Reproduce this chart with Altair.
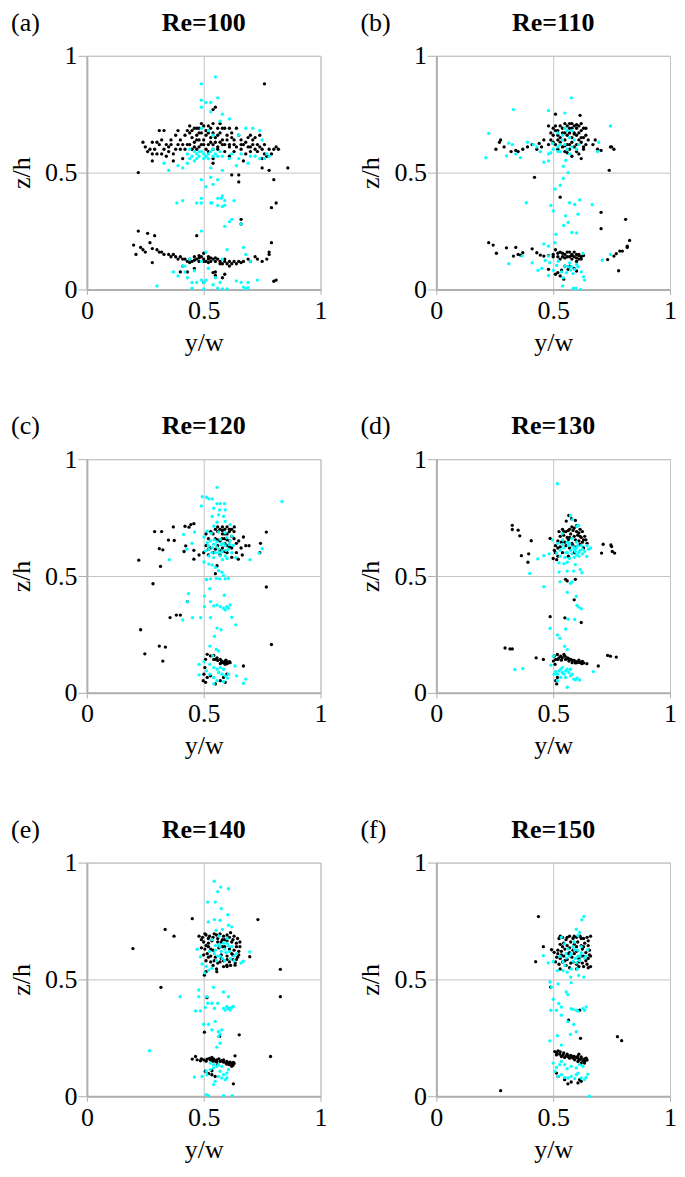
import altair as alt
import pandas as pd

FONT = "Liberation Serif, Times New Roman, serif"

# ---------------- Re=100 (a) ----------------
A_K = [(0.24,0.63),(0.28,0.63),(0.31,0.68),(0.33,0.68),(0.26,0.59),(0.28,0.58),(0.30,0.58),(0.28,0.55),(0.33,0.60),(0.34,0.57),
(0.36,0.64),(0.37,0.58),(0.39,0.68),(0.39,0.62),(0.40,0.60),(0.42,0.66),(0.43,0.62),(0.35,0.61),(0.31,0.62),(0.32,0.64),(0.29,0.60),(0.34,0.62),
(0.44,0.70),(0.46,0.69),(0.47,0.69),(0.49,0.71),(0.50,0.70),(0.52,0.70),(0.54,0.71),(0.56,0.69),(0.57,0.71),(0.59,0.69),(0.61,0.69),
(0.44,0.67),(0.45,0.65),(0.47,0.66),(0.48,0.67),(0.49,0.67),(0.51,0.66),(0.52,0.67),(0.54,0.67),(0.55,0.65),(0.56,0.66),(0.58,0.64),(0.60,0.66),(0.62,0.65),
(0.44,0.62),(0.46,0.63),(0.47,0.64),(0.49,0.62),(0.50,0.64),(0.52,0.62),(0.53,0.63),(0.54,0.62),(0.56,0.61),(0.57,0.63),(0.59,0.62),(0.61,0.62),
(0.45,0.60),(0.47,0.60),(0.48,0.61),(0.51,0.60),(0.52,0.59),(0.54,0.60),(0.56,0.60),(0.59,0.59),(0.61,0.61),(0.63,0.62),
(0.64,0.69),(0.66,0.64),(0.67,0.62),(0.68,0.63),(0.70,0.61),(0.71,0.64),(0.73,0.62),(0.74,0.66),(0.70,0.66),(0.73,0.59),(0.75,0.60),(0.76,0.58),(0.77,0.57),(0.80,0.60),(0.81,0.61),
(0.63,0.59),(0.66,0.60),(0.68,0.58),(0.70,0.59),(0.72,0.60),(0.75,0.56),(0.75,0.52),(0.54,0.56),(0.54,0.54),(0.67,0.55),(0.61,0.57),
(0.25,0.61),(0.27,0.60),(0.30,0.63),(0.32,0.58),(0.35,0.59),(0.36,0.62),(0.38,0.60),(0.38,0.66),(0.40,0.64),(0.41,0.62),(0.42,0.60),(0.43,0.68),(0.45,0.68),(0.46,0.61),
(0.48,0.69),(0.48,0.64),(0.50,0.62),(0.51,0.68),(0.53,0.65),(0.53,0.69),(0.55,0.63),(0.57,0.67),(0.58,0.62),(0.58,0.69),(0.60,0.64),(0.62,0.67),(0.63,0.64),(0.64,0.61),
(0.65,0.66),(0.66,0.62),(0.69,0.65),(0.69,0.61),(0.71,0.62),(0.72,0.65),(0.74,0.61),(0.76,0.62),(0.78,0.60),(0.79,0.58),(0.37,0.55),(0.41,0.56),
(0.76,0.88),(0.54,0.77),(0.55,0.78),(0.22,0.50),(0.86,0.52),(0.82,0.60),(0.80,0.47),(0.81,0.37),(0.79,0.35),(0.78,0.51),(0.62,0.49),(0.65,0.49),(0.65,0.46),(0.66,0.30),(0.66,0.28),
(0.20,0.19),(0.22,0.25),(0.26,0.24),(0.29,0.23),(0.23,0.18),(0.21,0.15),(0.27,0.20),(0.28,0.175),(0.28,0.115),(0.30,0.17),(0.31,0.16),(0.32,0.16),(0.33,0.15),(0.35,0.15),
(0.36,0.14),(0.38,0.14),(0.39,0.13),(0.40,0.14),(0.42,0.13),(0.43,0.12),(0.44,0.13),(0.45,0.12),(0.46,0.14),(0.47,0.13),(0.48,0.12),(0.49,0.14),(0.50,0.13),(0.51,0.12),
(0.52,0.13),(0.53,0.12),(0.54,0.13),(0.55,0.12),(0.56,0.13),(0.57,0.12),(0.58,0.11),(0.59,0.12),(0.60,0.11),(0.61,0.12),(0.62,0.11),(0.63,0.12),(0.65,0.12),(0.67,0.12),
(0.37,0.15),(0.41,0.13),(0.44,0.115),(0.46,0.125),(0.48,0.135),(0.50,0.12),(0.52,0.115),(0.53,0.135),(0.55,0.135),(0.57,0.11),(0.59,0.13),(0.61,0.10),(0.64,0.11),
(0.66,0.115),(0.70,0.12),(0.73,0.13),(0.24,0.17),(0.25,0.16),
(0.69,0.13),(0.72,0.14),(0.75,0.12),(0.77,0.13),(0.78,0.16),(0.79,0.20),(0.78,0.15),(0.81,0.04),(0.80,0.035),(0.47,0.23),(0.40,0.075),(0.43,0.075),(0.54,0.072),
(0.55,0.06),(0.55,0.075),(0.58,0.05),(0.50,0.03),(0.59,0.065),(0.46,0.09),(0.41,0.10),(0.50,0.155),(0.52,0.14),(0.48,0.145)]
A_C = [(0.55,0.91),(0.49,0.88),(0.56,0.82),(0.49,0.81),(0.51,0.80),(0.53,0.80),(0.49,0.78),(0.53,0.76),(0.58,0.75),(0.61,0.73),(0.57,0.72),(0.68,0.69),(0.71,0.69),
(0.74,0.68),(0.65,0.66),(0.54,0.66),(0.49,0.69),(0.52,0.68),(0.75,0.64),
(0.43,0.58),(0.45,0.57),(0.46,0.59),(0.47,0.58),(0.48,0.57),(0.49,0.59),(0.50,0.58),(0.51,0.57),(0.52,0.58),(0.53,0.59),(0.55,0.58),(0.56,0.57),(0.54,0.60),(0.50,0.56),(0.47,0.56),
(0.44,0.56),(0.46,0.55),(0.48,0.59),(0.52,0.56),(0.54,0.57),(0.57,0.59),(0.58,0.57),(0.44,0.60),(0.62,0.58),(0.66,0.58),(0.72,0.57),(0.74,0.56),
(0.33,0.54),(0.35,0.51),(0.39,0.53),(0.41,0.52),(0.43,0.54),(0.61,0.56),(0.65,0.56),(0.69,0.54),(0.70,0.57),(0.76,0.56),(0.78,0.57),(0.77,0.58),(0.58,0.51),(0.53,0.52),(0.64,0.53),
(0.49,0.47),(0.53,0.48),(0.56,0.47),(0.51,0.44),(0.54,0.45),(0.49,0.39),(0.385,0.37),(0.41,0.38),(0.47,0.37),(0.49,0.37),(0.53,0.37),(0.535,0.37),(0.56,0.39),(0.575,0.39),
(0.58,0.40),(0.59,0.38),(0.58,0.355),(0.63,0.38),(0.62,0.30),(0.61,0.29),(0.59,0.27),(0.66,0.28),(0.49,0.25),(0.56,0.36),(0.59,0.36),
(0.30,0.015),(0.37,0.075),(0.39,0.058),(0.41,0.10),(0.42,0.075),(0.46,0.08),(0.43,0.05),(0.45,0.03),(0.47,0.03),(0.49,0.04),(0.50,0.03),(0.51,0.04),(0.45,0.005),(0.50,0.002),
(0.54,0.02),(0.56,0.005),(0.58,0.002),(0.60,0.002),(0.57,0.03),(0.64,0.037),(0.66,0.03),(0.67,0.01),(0.68,0.003),(0.69,0.008),(0.69,0.03),(0.73,0.04),(0.68,0.15),(0.67,0.18),
(0.70,0.12),(0.51,0.16),(0.49,0.12),(0.44,0.13),(0.42,0.10),(0.52,0.09),(0.55,0.05),(0.58,0.13),(0.60,0.17)]

# ---------------- Re=110 (b) ----------------
B_K = [(0.255,0.60),(0.27,0.63),(0.275,0.64),(0.29,0.61),(0.32,0.59),(0.34,0.595),(0.35,0.59),(0.37,0.60),(0.41,0.62),(0.44,0.625),(0.45,0.61),(0.46,0.64),(0.48,0.62),(0.39,0.61),(0.43,0.60),
(0.48,0.70),(0.50,0.69),(0.51,0.70),(0.52,0.68),(0.53,0.70),(0.54,0.69),(0.55,0.71),(0.56,0.70),(0.57,0.69),(0.58,0.71),(0.59,0.70),(0.60,0.69),(0.61,0.70),(0.62,0.71),(0.63,0.69),
(0.49,0.67),(0.50,0.66),(0.52,0.66),(0.53,0.65),(0.55,0.67),(0.56,0.66),(0.57,0.67),(0.58,0.65),(0.59,0.67),(0.60,0.66),(0.61,0.67),(0.62,0.65),(0.64,0.66),
(0.50,0.63),(0.51,0.62),(0.53,0.63),(0.54,0.61),(0.56,0.62),(0.58,0.63),(0.59,0.61),(0.60,0.62),(0.62,0.63),(0.63,0.61),(0.64,0.62),
(0.52,0.60),(0.55,0.59),(0.57,0.60),(0.60,0.59),(0.61,0.58),(0.63,0.60),(0.62,0.56),(0.58,0.57),
(0.49,0.64),(0.51,0.68),(0.52,0.64),(0.54,0.67),(0.55,0.64),(0.57,0.62),(0.58,0.69),(0.59,0.665),(0.61,0.64),(0.62,0.68),(0.63,0.65),(0.64,0.69),(0.55,0.615),(0.57,0.71),
(0.60,0.705),(0.56,0.585),
(0.65,0.64),(0.67,0.62),(0.68,0.64),(0.705,0.595),(0.69,0.60),(0.745,0.61),(0.75,0.61),(0.76,0.60),(0.74,0.51),
(0.42,0.48),(0.53,0.395),(0.705,0.33),(0.705,0.26),(0.81,0.30),(0.51,0.75),(0.615,0.745),
(0.224,0.20),(0.243,0.19),(0.257,0.155),(0.30,0.178),(0.34,0.18),(0.33,0.143),(0.35,0.15),(0.36,0.147),(0.37,0.157),(0.41,0.174),(0.43,0.157),(0.445,0.147),(0.46,0.143),(0.48,0.145),
(0.50,0.15),(0.51,0.17),(0.52,0.14),(0.53,0.16),(0.54,0.14),(0.55,0.15),(0.56,0.14),(0.57,0.16),(0.58,0.13),(0.59,0.14),(0.60,0.15),(0.61,0.13),(0.62,0.14),(0.60,0.12),
(0.58,0.15),(0.56,0.16),(0.53,0.13),(0.59,0.16),(0.61,0.15),
(0.50,0.14),(0.52,0.155),(0.54,0.155),(0.55,0.135),(0.57,0.14),(0.58,0.145),(0.60,0.135),(0.61,0.145),(0.62,0.13),(0.63,0.145),
(0.51,0.065),(0.52,0.072),(0.536,0.083),(0.564,0.086),(0.60,0.079),(0.48,0.086),(0.53,0.058),(0.545,0.044),(0.57,0.10),(0.59,0.09),(0.55,0.10),(0.78,0.08),
(0.733,0.128),(0.76,0.143),(0.77,0.153),(0.785,0.164),(0.796,0.164),(0.817,0.18),(0.827,0.21),(0.817,0.185)]
B_C = [(0.578,0.82),(0.33,0.77),(0.48,0.765),(0.55,0.755),(0.745,0.70),(0.224,0.668),(0.212,0.564),(0.31,0.626),(0.325,0.62),(0.30,0.572),(0.34,0.58),(0.36,0.564),
(0.39,0.63),(0.415,0.62),(0.43,0.61),(0.445,0.59),(0.48,0.58),(0.49,0.585),(0.497,0.625),
(0.52,0.67),(0.54,0.66),(0.56,0.68),(0.57,0.65),(0.53,0.62),(0.55,0.62),(0.56,0.60),(0.58,0.61),(0.59,0.64),(0.54,0.64),(0.52,0.61),(0.50,0.60),(0.57,0.58),(0.60,0.60),
(0.61,0.62),(0.55,0.69),(0.58,0.68),(0.53,0.59),
(0.695,0.63),(0.69,0.59),(0.46,0.545),(0.48,0.55),(0.52,0.59),(0.554,0.552),(0.543,0.527),(0.564,0.50),(0.543,0.475),(0.53,0.446),(0.508,0.43),
(0.385,0.371),(0.49,0.36),(0.50,0.336),(0.57,0.371),(0.592,0.364),(0.613,0.383),(0.667,0.363),(0.606,0.322),(0.553,0.315),(0.545,0.274),(0.564,0.287),(0.58,0.244),
(0.60,0.242),(0.512,0.236),(0.508,0.20),
(0.31,0.11),(0.367,0.143),(0.41,0.114),(0.435,0.082),(0.451,0.09),(0.46,0.195),(0.48,0.185),(0.48,0.143),(0.485,0.115),(0.48,0.06),(0.501,0.082),(0.515,0.103),
(0.522,0.121),(0.536,0.075),(0.543,0.05),(0.55,0.10),(0.557,0.072),(0.564,0.097),(0.571,0.114),(0.575,0.083),(0.578,0.097),(0.585,0.068),(0.592,0.086),(0.60,0.107),
(0.606,0.097),(0.62,0.075),(0.627,0.154),(0.63,0.054),(0.634,0.04),(0.54,0.015),(0.585,0.004),(0.596,0.005),(0.617,0.0),(0.71,0.125),(0.745,0.15),(0.466,0.124)]

# ---------------- Re=120 (c) ----------------
C_K = [(0.29,0.69),(0.32,0.69),(0.37,0.71),(0.42,0.713),(0.437,0.709),(0.445,0.72),(0.458,0.724),(0.349,0.654),(0.374,0.652),(0.31,0.617),(0.325,0.612),(0.222,0.568),
(0.315,0.541),(0.416,0.605),(0.423,0.629),(0.458,0.61),(0.458,0.572),(0.48,0.59),(0.283,0.467),(0.768,0.688),(0.743,0.64),(0.74,0.60),(0.67,0.667),(0.694,0.63),
(0.665,0.59),(0.64,0.60),(0.648,0.572),(0.631,0.71),(0.615,0.70),(0.768,0.453),(0.557,0.544),(0.55,0.51),
(0.51,0.68),(0.53,0.69),(0.55,0.70),(0.56,0.71),(0.57,0.70),(0.58,0.71),(0.59,0.70),(0.60,0.71),(0.61,0.69),(0.62,0.70),(0.58,0.68),(0.60,0.68),(0.62,0.67),(0.52,0.66),
(0.55,0.66),(0.57,0.65),(0.59,0.66),(0.61,0.65),(0.63,0.66),(0.51,0.63),(0.53,0.62),(0.56,0.63),(0.58,0.62),(0.60,0.63),(0.62,0.62),(0.64,0.64),(0.50,0.60),(0.52,0.59),
(0.54,0.60),(0.57,0.59),(0.60,0.60),(0.62,0.58),(0.66,0.62),(0.68,0.63),(0.65,0.65),
(0.54,0.68),(0.56,0.69),(0.58,0.695),(0.59,0.68),(0.61,0.70),(0.60,0.655),(0.58,0.66),(0.56,0.655),(0.59,0.64),(0.61,0.625),(0.55,0.615),(0.52,0.615),(0.57,0.61),
(0.59,0.605),(0.63,0.69),
(0.43,0.39),(0.356,0.322),(0.383,0.333),(0.40,0.333),(0.23,0.27),(0.31,0.20),(0.336,0.196),(0.248,0.167),(0.325,0.136),(0.79,0.207),
(0.515,0.165),(0.529,0.158),(0.543,0.16),(0.55,0.143),(0.557,0.15),(0.571,0.143),(0.578,0.136),(0.585,0.129),(0.592,0.136),(0.599,0.133),(0.606,0.129),(0.613,0.129),
(0.58,0.13),(0.59,0.127),(0.60,0.125),(0.61,0.134),(0.595,0.14),(0.575,0.13),(0.56,0.138),
(0.592,0.122),(0.571,0.125),(0.543,0.143),(0.508,0.143),(0.505,0.108),(0.501,0.08),(0.498,0.052),(0.515,0.066),(0.508,0.045),(0.529,0.073),(0.55,0.038),(0.571,0.052),
(0.585,0.066),(0.599,0.08),(0.67,0.115),(0.592,0.045)]
C_C = [(0.557,0.879),(0.494,0.84),(0.512,0.837),(0.522,0.83),(0.536,0.83),(0.49,0.80),(0.543,0.79),(0.557,0.81),(0.571,0.81),(0.589,0.81),(0.568,0.783),(0.592,0.783),
(0.536,0.755),(0.564,0.762),(0.585,0.755),(0.835,0.819),(0.557,0.73),(0.592,0.734),(0.613,0.72),(0.543,0.713),(0.515,0.692),(0.532,0.682),(0.564,0.688),(0.592,0.685),
(0.62,0.671),(0.414,0.678),(0.461,0.688),(0.501,0.667),(0.515,0.643),(0.529,0.65),(0.543,0.636),(0.557,0.646),(0.571,0.657),(0.585,0.64),(0.599,0.664),(0.613,0.65),
(0.627,0.631),(0.508,0.608),(0.522,0.615),(0.536,0.622),(0.55,0.60),(0.564,0.615),(0.578,0.604),(0.592,0.629),(0.606,0.615),(0.62,0.60),(0.522,0.586),(0.543,0.579),
(0.535,0.60),(0.555,0.625),(0.575,0.635),(0.595,0.61),(0.61,0.635),(0.545,0.655),(0.52,0.63),(0.565,0.60),(0.58,0.57),(0.60,0.575),
(0.571,0.586),(0.592,0.586),(0.638,0.579),(0.698,0.57),(0.737,0.598),(0.75,0.617),(0.428,0.615),(0.45,0.64),(0.353,0.57),(0.501,0.56),(0.522,0.551),(0.536,0.547),
(0.55,0.537),(0.564,0.523),(0.578,0.516),(0.592,0.488),(0.606,0.49),(0.585,0.502),(0.512,0.485),(0.529,0.488),(0.554,0.49),(0.568,0.488),
(0.435,0.425),(0.43,0.39),(0.503,0.414),(0.526,0.446),(0.588,0.418),(0.529,0.39),(0.543,0.372),(0.557,0.376),(0.571,0.369),(0.585,0.362),(0.599,0.369),(0.613,0.376),
(0.606,0.362),(0.592,0.355),(0.503,0.369),(0.452,0.322),(0.487,0.322),(0.529,0.322),(0.62,0.323),(0.41,0.312),(0.557,0.277),(0.574,0.27),(0.637,0.291),(0.546,0.242),(0.526,0.20),
(0.554,0.186),(0.564,0.179),(0.539,0.158),(0.48,0.122),(0.501,0.133),(0.526,0.122),(0.543,0.108),(0.557,0.101),(0.571,0.108),(0.585,0.101),(0.564,0.087),(0.578,0.08),
(0.592,0.073),(0.606,0.08),(0.48,0.077),(0.512,0.094),(0.526,0.08),(0.543,0.066),(0.557,0.052),(0.585,0.048),(0.543,0.038),(0.634,0.115),(0.641,0.073),(0.67,0.041),
(0.68,0.059),(0.602,0.063)]

# ---------------- Re=130 (d) ----------------
D_K = [(0.567,0.759),(0.595,0.738),(0.556,0.735),(0.578,0.745),(0.325,0.717),(0.325,0.699),(0.35,0.696),(0.357,0.672),(0.406,0.651),(0.364,0.587),(0.395,0.595),
(0.392,0.559),(0.487,0.661),(0.714,0.636),(0.747,0.633),(0.75,0.626),(0.707,0.598),(0.753,0.605),(0.763,0.598),
(0.525,0.69),(0.54,0.70),(0.555,0.69),(0.57,0.70),(0.585,0.695),(0.60,0.69),(0.615,0.70),(0.58,0.71),(0.60,0.715),(0.53,0.67),(0.545,0.675),(0.56,0.665),(0.575,0.68),
(0.59,0.67),(0.605,0.675),(0.62,0.665),(0.635,0.67),(0.64,0.655),(0.52,0.65),(0.55,0.645),(0.565,0.655),(0.58,0.64),(0.61,0.65),(0.625,0.645),(0.645,0.64),(0.51,0.63),
(0.53,0.625),(0.57,0.62),(0.60,0.625),(0.63,0.62),(0.51,0.60),(0.52,0.585),(0.50,0.575),(0.515,0.57),(0.54,0.60),(0.59,0.60),(0.565,0.585),
(0.545,0.69),(0.565,0.695),(0.59,0.705),(0.61,0.685),(0.625,0.69),(0.57,0.665),(0.595,0.655),(0.615,0.67),(0.63,0.655),(0.555,0.63),(0.585,0.63),(0.615,0.635),
(0.535,0.645),(0.52,0.62),(0.505,0.61),
(0.553,0.486),(0.595,0.486),(0.56,0.479),(0.59,0.398),(0.487,0.326),(0.55,0.321),(0.62,0.301),
(0.294,0.192),(0.315,0.188),(0.325,0.188),(0.427,0.15),(0.458,0.143),(0.504,0.157),(0.511,0.143),(0.518,0.164),(0.525,0.15),(0.532,0.157),(0.539,0.15),(0.546,0.164),
(0.553,0.143),(0.56,0.15),(0.567,0.136),(0.574,0.143),(0.581,0.129),(0.588,0.139),(0.595,0.136),(0.602,0.129),(0.609,0.132),(0.616,0.129),(0.623,0.125),(0.644,0.125),
(0.52,0.143),(0.535,0.14),(0.55,0.157),(0.565,0.147),(0.58,0.14),(0.595,0.128),(0.61,0.14),(0.625,0.135),(0.63,0.128),
(0.501,0.136),(0.508,0.122),(0.693,0.115),(0.733,0.16),(0.745,0.157),(0.77,0.153),(0.511,0.052),(0.518,0.066),(0.515,0.038)]
D_C = [(0.518,0.895),(0.574,0.759),(0.581,0.741),(0.602,0.713),(0.609,0.717),(0.539,0.682),(0.497,0.654),(0.515,0.598),(0.434,0.573),(0.46,0.587),(0.40,0.511),
(0.483,0.595),(0.525,0.556),(0.546,0.553),(0.56,0.559),(0.595,0.549),(0.616,0.528),(0.623,0.514),(0.525,0.517),(0.56,0.521),(0.588,0.521),(0.529,0.475),(0.581,0.475),
(0.574,0.469),(0.651,0.615),(0.644,0.584),
(0.52,0.64),(0.53,0.61),(0.545,0.62),(0.555,0.60),(0.565,0.63),(0.575,0.61),(0.585,0.625),(0.595,0.605),(0.605,0.63),(0.615,0.61),(0.625,0.595),(0.635,0.605),(0.55,0.58),
(0.57,0.575),(0.59,0.58),(0.61,0.585),(0.54,0.655),(0.56,0.645),(0.58,0.66),(0.60,0.645),(0.62,0.63),(0.53,0.585),(0.58,0.595),(0.60,0.59),(0.645,0.63),(0.66,0.62),
(0.54,0.635),(0.57,0.64),(0.59,0.615),(0.56,0.60),(0.61,0.60),(0.60,0.62),(0.625,0.615),
(0.46,0.454),(0.56,0.43),(0.599,0.413),(0.602,0.374),(0.609,0.367),(0.62,0.36),(0.564,0.315),(0.592,0.314),(0.487,0.276),(0.553,0.273),(0.518,0.248),(0.529,0.234),
(0.549,0.199),(0.56,0.185),
(0.336,0.10),(0.37,0.104),(0.49,0.119),(0.501,0.157),(0.511,0.091),(0.518,0.08),(0.525,0.094),(0.532,0.101),(0.539,0.087),(0.546,0.08),(0.553,0.094),(0.56,0.101),
(0.567,0.087),(0.574,0.073),(0.581,0.08),(0.588,0.059),(0.595,0.056),(0.602,0.063),(0.613,0.055),(0.504,0.08),(0.518,0.052),(0.532,0.066),(0.553,0.066),(0.56,0.024),
(0.672,0.091),(0.539,0.108),(0.574,0.101)]

# ---------------- Re=140 (e) ----------------
E_K = [(0.451,0.76),(0.732,0.756),(0.335,0.714),(0.373,0.685),(0.197,0.632),(0.828,0.543),(0.697,0.597),(0.317,0.466),(0.828,0.426),(0.652,0.263),(0.786,0.17),
(0.48,0.685),(0.495,0.68),(0.51,0.69),(0.525,0.685),(0.54,0.68),(0.555,0.69),(0.57,0.695),(0.585,0.685),(0.60,0.69),(0.615,0.70),(0.63,0.685),(0.645,0.675),(0.50,0.66),
(0.52,0.655),(0.535,0.665),(0.56,0.66),(0.58,0.67),(0.60,0.665),(0.62,0.66),(0.64,0.655),(0.655,0.64),(0.49,0.635),(0.505,0.63),(0.52,0.64),(0.54,0.625),(0.565,0.635),
(0.59,0.64),(0.61,0.63),(0.63,0.625),(0.65,0.62),(0.50,0.605),(0.515,0.61),(0.53,0.60),(0.55,0.595),(0.575,0.605),(0.60,0.60),(0.625,0.605),(0.645,0.595),(0.51,0.58),
(0.53,0.575),(0.56,0.57),(0.585,0.58),(0.61,0.575),(0.635,0.57),(0.54,0.56),(0.60,0.555),(0.503,0.518),(0.51,0.533),(0.556,0.533),(0.599,0.561),(0.634,0.561),(0.57,0.575),
(0.49,0.67),(0.505,0.695),(0.52,0.675),(0.545,0.695),(0.56,0.675),(0.575,0.66),(0.59,0.67),(0.61,0.68),(0.625,0.67),(0.64,0.64),(0.51,0.645),(0.53,0.63),(0.58,0.64),
(0.62,0.61),(0.64,0.585),(0.52,0.595),(0.545,0.58),(0.575,0.59),(0.60,0.585),(0.625,0.585),(0.555,0.545),(0.585,0.555),(0.615,0.56),(0.65,0.605),(0.655,0.66),
(0.514,0.422),(0.606,0.376),(0.503,0.274),(0.568,0.256),
(0.465,0.17),(0.451,0.159),(0.472,0.156),(0.486,0.152),(0.50,0.156),(0.514,0.159),(0.528,0.156),(0.542,0.16),(0.549,0.152),(0.556,0.156),(0.57,0.149),(0.577,0.152),
(0.585,0.146),(0.599,0.149),(0.606,0.142),(0.613,0.146),(0.62,0.139),(0.627,0.145),(0.634,0.173),(0.62,0.128),(0.599,0.138),(0.535,0.166),(0.507,0.107),(0.521,0.097),
(0.49,0.16),(0.51,0.15),(0.525,0.162),(0.54,0.15),(0.555,0.147),(0.565,0.16),(0.585,0.155),(0.595,0.142),(0.61,0.135),(0.625,0.132),(0.63,0.14),(0.535,0.155),
(0.535,0.092),(0.549,0.085),(0.535,0.109),(0.627,0.053),(0.56,0.135)]
E_C = [(0.545,0.92),(0.573,0.895),(0.606,0.888),(0.56,0.876),(0.517,0.831),(0.55,0.831),(0.575,0.803),(0.603,0.777),(0.52,0.746),(0.546,0.756),(0.57,0.753),(0.606,0.732),
(0.58,0.714),(0.553,0.71),(0.62,0.725),
(0.535,0.67),(0.55,0.645),(0.565,0.65),(0.575,0.62),(0.585,0.655),(0.595,0.615),(0.605,0.645),(0.545,0.61),(0.56,0.60),(0.58,0.59),(0.62,0.64),(0.60,0.675),(0.525,0.62),
(0.565,0.685),(0.615,0.59),(0.59,0.58),(0.64,0.61),
(0.57,0.64),(0.59,0.63),(0.61,0.62),(0.55,0.625),(0.57,0.60),(0.60,0.655),(0.63,0.60),(0.555,0.58),
(0.697,0.618),(0.669,0.578),(0.472,0.629),(0.486,0.597),(0.493,0.566),(0.511,0.556),(0.504,0.528),(0.521,0.54),(0.535,0.547),(0.63,0.58),(0.66,0.57),
(0.479,0.455),(0.542,0.466),(0.585,0.446),(0.399,0.426),(0.479,0.426),(0.514,0.426),(0.517,0.398),(0.535,0.398),(0.546,0.376),(0.56,0.398),(0.585,0.376),(0.592,0.369),
(0.599,0.384),(0.606,0.376),(0.613,0.369),(0.62,0.38),(0.627,0.384),(0.465,0.365),(0.486,0.365),(0.507,0.38),(0.606,0.426),(0.50,0.308),(0.521,0.308),(0.549,0.32),
(0.563,0.277),(0.577,0.284),(0.57,0.266),(0.535,0.284),(0.563,0.256),(0.57,0.227),(0.556,0.21),(0.268,0.195),
(0.46,0.082),(0.493,0.085),(0.511,0.107),(0.528,0.114),(0.542,0.121),(0.556,0.128),(0.57,0.107),(0.585,0.092),(0.599,0.099),(0.606,0.114),(0.592,0.071),(0.577,0.078),
(0.563,0.085),(0.549,0.064),(0.542,0.05),(0.511,0.007),(0.521,0.003),(0.585,0.003),(0.622,0.003),(0.528,0.142),(0.542,0.135),(0.563,0.135),(0.577,0.128),(0.514,0.092),(0.599,0.078)]

# ---------------- Re=150 (f) ----------------
F_K = [(0.437,0.769),(0.458,0.64),(0.425,0.576),(0.493,0.627),(0.504,0.616),
(0.525,0.675),(0.54,0.68),(0.555,0.67),(0.57,0.685),(0.585,0.675),(0.60,0.68),(0.615,0.685),(0.63,0.675),(0.645,0.68),(0.66,0.685),(0.53,0.65),(0.545,0.655),(0.56,0.645),
(0.575,0.66),(0.59,0.65),(0.605,0.66),(0.62,0.645),(0.635,0.655),(0.65,0.645),(0.52,0.625),(0.535,0.62),(0.55,0.63),(0.57,0.615),(0.585,0.625),(0.60,0.62),(0.625,0.63),
(0.64,0.615),(0.655,0.625),(0.515,0.595),(0.53,0.59),(0.545,0.60),(0.56,0.585),(0.58,0.595),(0.61,0.59),(0.63,0.60),(0.65,0.59),(0.525,0.565),(0.54,0.575),(0.555,0.56),
(0.575,0.57),(0.60,0.565),(0.625,0.57),(0.645,0.565),(0.66,0.555),(0.53,0.545),(0.61,0.555),(0.51,0.575),(0.52,0.61),
(0.53,0.685),(0.56,0.68),(0.59,0.685),(0.62,0.675),(0.65,0.665),(0.54,0.64),(0.57,0.635),(0.60,0.64),(0.63,0.64),(0.655,0.605),(0.535,0.605),(0.565,0.61),(0.59,0.61),
(0.62,0.60),(0.64,0.58),(0.55,0.58),(0.585,0.575),(0.61,0.575),(0.63,0.555),(0.57,0.55),(0.60,0.545),(0.65,0.55),(0.66,0.60),
(0.489,0.467),(0.613,0.368),(0.566,0.326),(0.617,0.248),(0.775,0.255),(0.793,0.238),(0.275,0.024),
(0.507,0.191),(0.514,0.177),(0.521,0.194),(0.528,0.18),(0.535,0.17),(0.542,0.177),(0.549,0.166),(0.556,0.173),(0.563,0.17),(0.57,0.163),(0.577,0.17),(0.585,0.163),
(0.592,0.156),(0.599,0.166),(0.606,0.163),(0.613,0.156),(0.62,0.16),(0.627,0.151),(0.634,0.16),(0.641,0.163),(0.606,0.149),(0.62,0.142),(0.634,0.142),(0.585,0.17),
(0.515,0.185),(0.53,0.19),(0.545,0.185),(0.56,0.18),(0.575,0.175),(0.59,0.17),(0.605,0.17),(0.62,0.168),(0.635,0.15),(0.645,0.155),(0.61,0.18),
(0.521,0.085),(0.549,0.071),(0.563,0.053),(0.577,0.061),(0.606,0.057),(0.613,0.071),(0.62,0.064),(0.514,0.099)]
F_C = [(0.631,0.769),(0.623,0.755),(0.599,0.715),(0.613,0.701),(0.606,0.687),
(0.458,0.602),(0.479,0.571),(0.50,0.576),(0.518,0.538),(0.535,0.68),(0.549,0.652),(0.563,0.631),(0.577,0.61),(0.592,0.627),(0.606,0.599),(0.62,0.613),(0.634,0.592),
(0.648,0.627),(0.528,0.599),(0.542,0.576),(0.556,0.592),(0.585,0.578),(0.599,0.571),(0.613,0.581),(0.542,0.538),(0.56,0.531),(0.577,0.545),(0.603,0.545),(0.631,0.51),
(0.609,0.517),(0.577,0.486),(0.575,0.51),(0.62,0.64),(0.59,0.66),
(0.57,0.60),(0.595,0.59),(0.615,0.60),(0.585,0.64),(0.605,0.625),(0.555,0.61),(0.64,0.60),(0.55,0.56),
(0.486,0.489),(0.493,0.467),(0.521,0.481),(0.556,0.446),(0.563,0.435),(0.50,0.415),(0.524,0.397),(0.535,0.382),(0.49,0.368),(0.514,0.368),(0.577,0.375),(0.585,0.372),
(0.599,0.368),(0.606,0.364),(0.627,0.375),(0.641,0.382),(0.634,0.368),(0.535,0.347),(0.563,0.319),(0.574,0.265),(0.588,0.307),(0.599,0.276),(0.518,0.259),(0.486,0.237),(0.535,0.219),
(0.50,0.142),(0.507,0.106),(0.514,0.123),(0.528,0.135),(0.535,0.149),(0.549,0.135),(0.56,0.118),(0.577,0.128),(0.599,0.121),(0.613,0.135),(0.627,0.128),(0.648,0.095),
(0.521,0.085),(0.535,0.092),(0.549,0.081),(0.563,0.078),(0.577,0.085),(0.592,0.075),(0.599,0.092),(0.606,0.099),(0.62,0.078),(0.634,0.071),(0.655,0.0),(0.641,0.081)]

LETTERS = ["(a)", "(b)", "(c)", "(d)", "(e)", "(f)"]
TITLES = ["Re=100", "Re=110", "Re=120", "Re=130", "Re=140", "Re=150"]
BLACKS = [A_K, B_K, C_K, D_K, E_K, F_K]
CYANS = [A_C, B_C, C_C, D_C, E_C, F_C]
TICKS = [0, 0.5, 1]

W = 234
H = 234
GRID = "#c4c4c4"
DOMAIN = "#b0b0b0"


def make_panel(letter, title, black, cyan):
    xs = alt.Scale(domain=[0, 1], nice=False, zero=False)
    ys = alt.Scale(domain=[0, 1], nice=False, zero=False)
    xenc = alt.X("x:Q", scale=xs, title="y/w",
                 axis=alt.Axis(values=TICKS, format="~g", tickSize=5, labelPadding=3,
                               titlePadding=6, labelFlush=False))
    yenc = alt.Y("z:Q", scale=ys, title="z/h",
                 axis=alt.Axis(values=TICKS, format="~g", tickSize=9, labelPadding=1,
                               titlePadding=10, labelFlush=False))
    dk = pd.DataFrame(black, columns=["x", "z"])
    dc = pd.DataFrame(cyan, columns=["x", "z"])
    k = alt.Chart(dk).mark_circle(size=11, opacity=1, color="#000000").encode(x=xenc, y=yenc)
    c = alt.Chart(dc).mark_circle(size=11, opacity=1, color="#00ffff").encode(x=xenc, y=yenc)
    lab = alt.Chart(pd.DataFrame({"t": [letter]})).mark_text(
        font=FONT, fontSize=26, align="left", baseline="alphabetic", color="#000000"
    ).encode(text="t:N", x=alt.value(-76), y=alt.value(-25))
    ttl = alt.Chart(pd.DataFrame({"t": [title]})).mark_text(
        font=FONT, fontSize=26, fontWeight="bold", align="center", baseline="alphabetic", color="#000000"
    ).encode(text="t:N", x=alt.value(W / 2), y=alt.value(-25))
    return alt.layer(k, c, lab, ttl).properties(width=W, height=H)


panels = [make_panel(LETTERS[i], TITLES[i], BLACKS[i], CYANS[i]) for i in range(6)]
chart = alt.concat(*panels, columns=2, spacing={"row": 170, "column": 116}, bounds="flush").properties(
    padding={"left": 0, "top": 0, "right": 0, "bottom": 0}
).configure_view(stroke=GRID, strokeWidth=1).configure_axis(
    grid=True, gridColor=GRID, gridWidth=1, domainColor=DOMAIN, domainWidth=2,
    tickColor=DOMAIN, tickWidth=1, labelFont=FONT, labelFontSize=26, labelColor="#000000",
    titleFont=FONT, titleFontSize=26, titleFontWeight="normal", titleColor="#000000"
)

chart.save("out.html", embed_options={"renderer": "svg", "actions": False})
